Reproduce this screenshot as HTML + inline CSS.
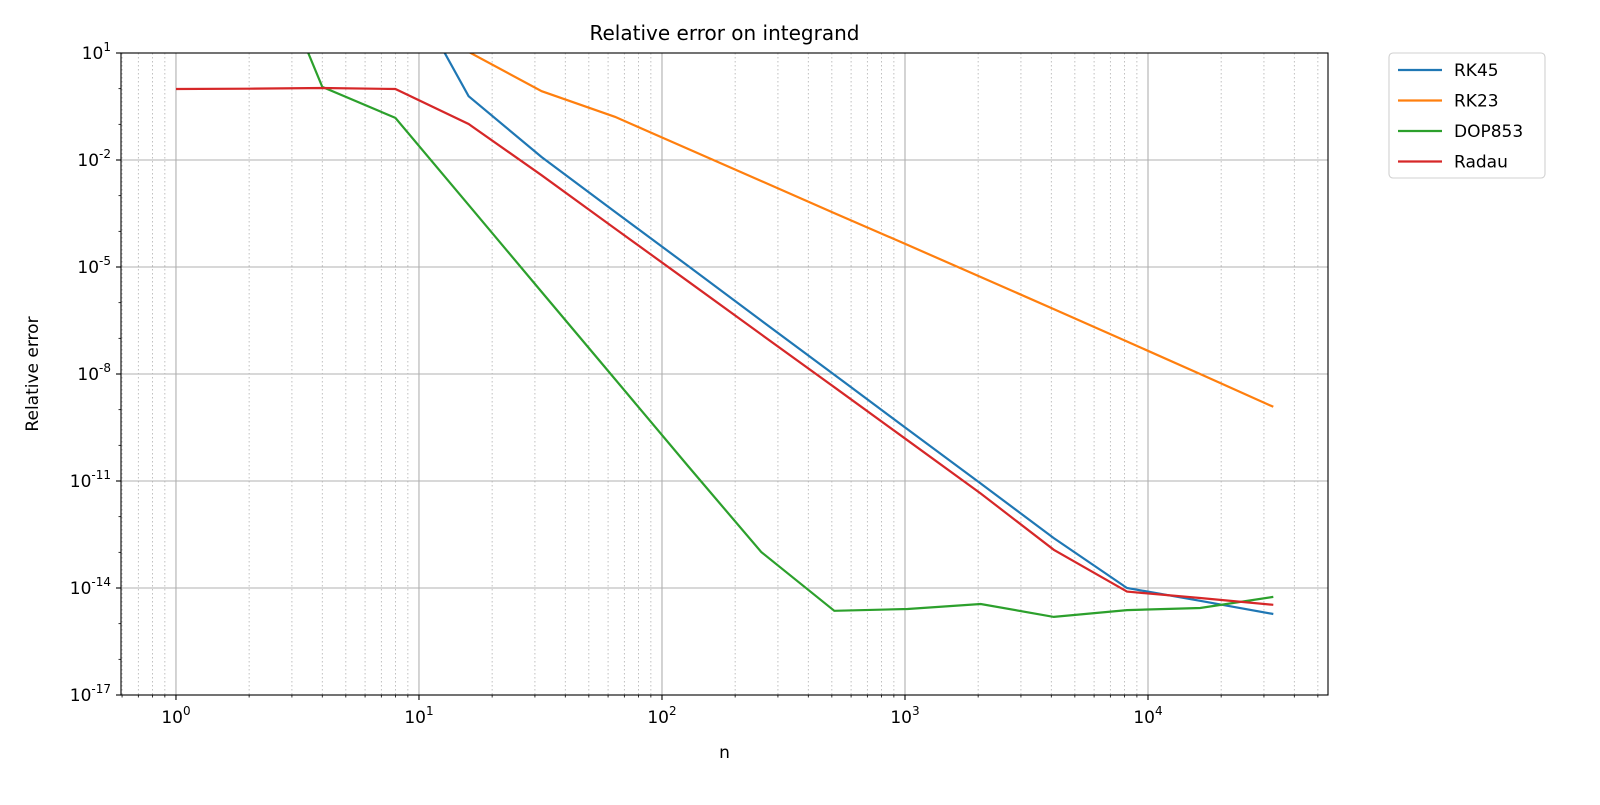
<!DOCTYPE html>
<html><head><meta charset="utf-8"><style>
body{margin:0;background:#fff;font-family:"Liberation Sans","DejaVu Sans",sans-serif}
svg text{font-family:"DejaVu Sans","Liberation Sans",sans-serif;fill:#000}
</style></head><body>
<svg id="c" width="1600" height="800" xmlns="http://www.w3.org/2000/svg"></svg>
<script>
const ns='http://www.w3.org/2000/svg';
const nVals=[1,2,4,8,16,32,64,128,256,512,1024,2048,4096,8192,16384,32768];
const seriesNames=['RK45','RK23','DOP853','Radau'];
const seriesColors=['#1f77b4','#ff7f0e','#2ca02c','#d62728'];
const rk45=[null,null,null,3.5,-0.21,-1.92,-3.45,-4.97,-6.5,-8.02,-9.55,-11.07,-12.6,-14.0,-14.36,-14.73];
const rk23=[null,null,null,null,1.03,-0.07,-0.79,-1.69,-2.59,-3.49,-4.38,-5.28,-6.18,-7.09,-8.0,-8.92];
const dop853=[null,5.0,0.05,-0.82,-3.26,-5.7,-8.14,-10.58,-12.99,-14.64,-14.59,-14.45,-14.81,-14.62,-14.56,-14.25];
const radau=[-0.01,0.0,0.02,-0.01,-0.99,-2.43,-3.92,-5.4,-6.89,-8.37,-9.86,-11.35,-12.93,-14.1,-14.28,-14.47];
const allSeries=[rk45,rk23,dop853,radau];
const yTickExps=[1,-2,-5,-8,-11,-14,-17];
const xTickExps=[0,1,2,3,4];
const L=121,R=1328,T=53,B=695;
const xMin=Math.log10(0.594),xMax=4.7407;
const X=lx=>L+(lx-xMin)/(xMax-xMin)*(R-L);
const Y=ly=>T+(1-ly)/18*(B-T);
const svg=document.getElementById('c');
function el(t,a,p){const e=document.createElementNS(ns,t);for(const k in a)e.setAttribute(k,a[k]);(p||svg).appendChild(e);return e;}
const clip=el('clipPath',{id:'pc'});el('rect',{x:L,y:T,width:R-L,height:B-T},clip);
// minor grid
for(let d=-1;d<=4;d++)for(let m=2;m<=9;m++){const lx=d+Math.log10(m);if(lx<xMin||lx>xMax)continue;
const g=el('line',{x1:X(lx),x2:X(lx),y1:T,y2:B,stroke:'#b0b0b0','stroke-width':0.8,'stroke-dasharray':'1.5,2.5'});


el('line',{x1:X(lx),x2:X(lx),y1:B,y2:B+2.5,stroke:'#000','stroke-width':0.8});}
for(let e=-17;e<=1;e++){el('line',{x1:L-2.5,x2:L,y1:Y(e),y2:Y(e),stroke:'#000','stroke-width':0.8});}
xTickExps.forEach(e=>{const g=el('line',{x1:X(e),x2:X(e),y1:T,y2:B,stroke:'#b0b0b0','stroke-width':1.1});


el('line',{x1:X(e),x2:X(e),y1:B,y2:B+5,stroke:'#000','stroke-width':1.1});
const t=el('text',{x:X(e),y:B+28,'font-size':17,'text-anchor':'middle'});t.innerHTML='10<tspan dy="-8" font-size="12">'+e+'</tspan>';

});
yTickExps.forEach(e=>{const g=el('line',{x1:L,x2:R,y1:Y(e),y2:Y(e),stroke:'#b0b0b0','stroke-width':1.1});


el('line',{x1:L-5,x2:L,y1:Y(e),y2:Y(e),stroke:'#000','stroke-width':1.1});
const t=el('text',{x:L-10,y:Y(e)+6,'font-size':17,'text-anchor':'end'});t.innerHTML='10<tspan dy="-8" font-size="12">'+e+'</tspan>';

});
allSeries.forEach((s,i)=>{let pts=[];s.forEach((v,j)=>{if(v!==null)pts.push(X(Math.log10(nVals[j])).toFixed(1)+','+Y(v).toFixed(1));});
const p=el('polyline',{points:pts.join(' '),fill:'none',stroke:seriesColors[i],'stroke-width':2.2,'clip-path':'url(#pc)'});

});
const fr=el('rect',{x:L,y:T,width:R-L,height:B-T,fill:'none',stroke:'#000','stroke-width':1.1});


const ti=el('text',{x:(L+R)/2,y:40,'font-size':20,'text-anchor':'middle'});ti.textContent='Relative error on integrand';


const xl=el('text',{x:(L+R)/2,y:758,'font-size':17,'text-anchor':'middle'});xl.textContent='n';


const yl=el('text',{x:0,y:0,'font-size':17,'text-anchor':'middle',transform:'translate(38,374) rotate(-90)'});yl.textContent='Relative error';


const lg=el('rect',{x:1389,y:53,width:156,height:125,rx:4,fill:'#fff',stroke:'#d0d0d0','stroke-width':1.1});


seriesNames.forEach((n,i)=>{const y=70+i*30.5;
el('line',{x1:1398,x2:1442,y1:y,y2:y,stroke:seriesColors[i],'stroke-width':2.2});
const t=el('text',{x:1454,y:y+6,'font-size':17});t.textContent=n;

});
</script>
</body></html>
